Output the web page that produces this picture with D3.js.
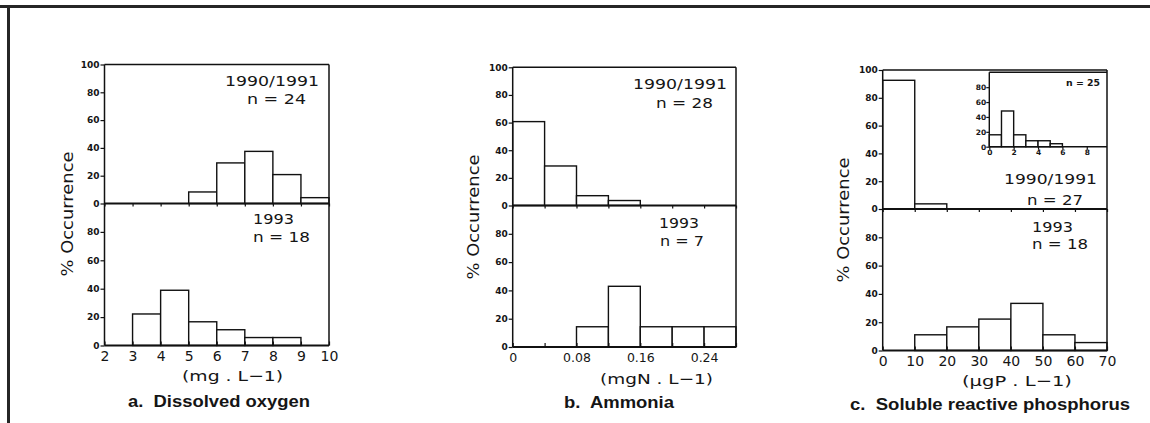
<!DOCTYPE html>
<html>
<head>
<meta charset="utf-8">
<script src="https://cdn.jsdelivr.net/npm/d3@7"></script>
<style>
  body { margin: 0; background: #fff; }
  svg { display: block; }
  text { fill: #151515; white-space: pre; }
</style>
</head>
<body>
<div id="chart"></div>
<script>
// lower edge of each class and % occurrence per class
const oxygenBins = [2, 3, 4, 5, 6, 7, 8, 9];
const oxygen9091 = [0, 0, 0, 8.3, 29.2, 37.5, 20.8, 4.2];
const oxygen1993 = [0, 22.2, 38.9, 16.7, 11.1, 5.6, 5.6, 0];
const oxygenTicks = [2, 3, 4, 5, 6, 7, 8, 9, 10];
const oxygenLabels = ["2", "3", "4", "5", "6", "7", "8", "9", "10"];

const ammoniaBins = [0, 0.04, 0.08, 0.12, 0.16, 0.20, 0.24];
const ammonia9091 = [60.7, 28.6, 7.1, 3.6, 0, 0, 0];
const ammonia1993 = [0, 0, 14.3, 42.9, 14.3, 14.3, 14.3];
const ammoniaTicks = [0, 0.04, 0.08, 0.12, 0.16, 0.20, 0.24, 0.28];
const ammoniaLabels = ["0", "", "0.08", "", "0.16", "", "0.24", ""];

const phosBins = [0, 10, 20, 30, 40, 50, 60];
const phos9091 = [92.6, 3.7, 0, 0, 0, 0, 0];
const phos1993 = [0, 11.1, 16.7, 22.2, 33.3, 11.1, 5.6];
const phosTicks = [0, 10, 20, 30, 40, 50, 60, 70];
const phosLabels = ["0", "10", "20", "30", "40", "50", "60", "70"];

// inset of panel c (1990/1991 detail, n = 25)
const insetBins = [0, 1, 2, 3, 4, 5];
const insetValues = [16, 48, 16, 8, 8, 4];
const insetXTicks = [0, 2, 4, 6, 8];
const insetYTicks = [0, 20, 40, 60, 80];

const yTicksUpper = [0, 20, 40, 60, 80, 100];
const yTicksLower = [0, 20, 40, 60, 80];

const ink = "#111";

const panels = [
  {
    bins: oxygenBins, step: 1, upper: oxygen9091, lower: oxygen1993,
    ticks: oxygenTicks, labels: oxygenLabels, domain: [2, 10],
    x0: 104.5, x1: 329, top: 64.5, mid: 203.5, bot: 345.5,
    tickFont: 14, tickPad: 6,
    ylabX: 67, ylabY: 214,
    notes: [
      { t: "1990/1991", x: 225, y: 86, w: 94 },
      { t: "n = 24", x: 247, y: 104, w: 59 },
      { t: "1993", x: 253, y: 224, w: 41 },
      { t: "n = 18", x: 253, y: 242, w: 57 }
    ],
    unit: { t: "(mg . L\u22121)", x: 182, y: 381, w: 101 },
    title: { t: "a.  Dissolved oxygen", x: 128, y: 407, w: 182 }
  },
  {
    bins: ammoniaBins, step: 0.04, upper: ammonia9091, lower: ammonia1993,
    ticks: ammoniaTicks, labels: ammoniaLabels, domain: [0, 0.28],
    x0: 512.7, x1: 736, top: 67.3, mid: 205.5, bot: 347,
    tickFont: 12.5, tickPad: 6,
    ylabX: 473, ylabY: 217,
    notes: [
      { t: "1990/1991", x: 633, y: 88.7, w: 94 },
      { t: "n = 28", x: 656, y: 108, w: 57 },
      { t: "1993", x: 659, y: 228, w: 40 },
      { t: "n = 7", x: 660, y: 246, w: 44 }
    ],
    unit: { t: "(mgN . L\u22121)", x: 600, y: 384, w: 113 },
    title: { t: "b.  Ammonia", x: 564, y: 408, w: 110 }
  },
  {
    bins: phosBins, step: 10, upper: phos9091, lower: phos1993,
    ticks: phosTicks, labels: phosLabels, domain: [0, 70],
    x0: 882.7, x1: 1107, top: 70, mid: 209, bot: 350.5,
    tickFont: 14, tickPad: 6,
    ylabX: 843, ylabY: 220,
    notes: [
      { t: "1990/1991", x: 1004, y: 184, w: 93 },
      { t: "n = 27", x: 1027, y: 205, w: 56 },
      { t: "1993", x: 1032, y: 232, w: 41 },
      { t: "n = 18", x: 1032, y: 249, w: 56 }
    ],
    unit: { t: "(\u00b5gP . L\u22121)", x: 962, y: 386, w: 110 },
    title: { t: "c.  Soluble reactive phosphorus", x: 850, y: 410, w: 280 },
    inset: { x0: 989.3, x1: 1107, top: 72.3, bot: 146.7, domain: [0, 9.66] }
  }
];

const svg = d3.select("#chart").append("svg")
  .attr("width", 1150)
  .attr("height", 423);

// page frame (top rule and left rule)
svg.append("rect").attr("x", 0).attr("y", 5).attr("width", 1150).attr("height", 3).attr("fill", "#262626");
svg.append("rect").attr("x", 7).attr("y", 5).attr("width", 3).attr("height", 418).attr("fill", "#262626");

function drawBars(g, bins, step, vals, x, y) {
  g.selectAll(null)
    .data(bins.map((b, i) => ({ b: b, v: vals[i] })).filter(d => d.v > 0))
    .join("rect")
    .attr("x", d => x(d.b))
    .attr("width", d => x(d.b + step) - x(d.b))
    .attr("y", d => y(d.v))
    .attr("height", d => y(0) - y(d.v))
    .attr("fill", "#fff")
    .attr("stroke", ink)
    .attr("stroke-width", 1.4);
}

function styleAxis(a, size, weight, family) {
  a.select(".domain").remove();
  a.attr("font-family", null).attr("font-size", null);
  a.selectAll("line").attr("stroke", ink).attr("stroke-width", 1.2);
  a.selectAll("text")
    .attr("fill", ink)
    .style("font-family", family || "DejaVu Sans")
    .style("font-size", size + "px")
    .style("font-weight", weight);
}

function hline(g, x0, x1, y, w) {
  g.append("line").attr("x1", x0).attr("x2", x1).attr("y1", y).attr("y2", y)
    .attr("stroke", ink).attr("stroke-width", w);
}
function vline(g, x, y0, y1, w) {
  g.append("line").attr("x1", x).attr("x2", x).attr("y1", y0).attr("y2", y1)
    .attr("stroke", ink).attr("stroke-width", w);
}

function label(g, o, size, weight, family) {
  g.append("text")
    .attr("x", o.x).attr("y", o.y)
    .attr("textLength", o.w).attr("lengthAdjust", "spacingAndGlyphs")
    .style("font-family", family || "DejaVu Sans")
    .style("font-size", size + "px")
    .style("font-weight", weight || "normal")
    .text(o.t);
}

function drawPanel(p) {
  const g = svg.append("g");
  const x = d3.scaleLinear().domain(p.domain).range([p.x0, p.x1]);
  const yUp = d3.scaleLinear().domain([0, 100]).range([p.mid, p.top]);
  const yLo = d3.scaleLinear().domain([0, 100]).range([p.bot, p.mid]);

  drawBars(g, p.bins, p.step, p.upper, x, yUp);
  drawBars(g, p.bins, p.step, p.lower, x, yLo);

  // plot frame
  vline(g, p.x0, p.top, p.bot, 1.5);
  vline(g, p.x1, p.top, p.bot, 1.5);
  hline(g, p.x0, p.x1, p.top, 1.5);
  hline(g, p.x0, p.x1, p.mid, 2);
  hline(g, p.x0, p.x1, p.bot, 1.8);

  // y axes
  styleAxis(g.append("g").attr("transform", `translate(${p.x0},0)`)
    .call(d3.axisLeft(yUp).tickValues(yTicksUpper).tickSize(4).tickPadding(1)), 9, "bold");
  styleAxis(g.append("g").attr("transform", `translate(${p.x0},0)`)
    .call(d3.axisLeft(yLo).tickValues(yTicksLower).tickSize(4).tickPadding(1)), 9, "bold");

  // x ticks on the shared middle line
  styleAxis(g.append("g").attr("transform", `translate(0,${p.mid})`)
    .call(d3.axisBottom(x).tickValues(p.ticks).tickSize(3).tickFormat("")), 9, "normal");

  // bottom x axis
  styleAxis(g.append("g").attr("transform", `translate(0,${p.bot})`)
    .call(d3.axisBottom(x).tickValues(p.ticks).tickSize(-4).tickPadding(p.tickPad)
      .tickFormat((d, i) => p.labels[i])), p.tickFont, "normal");

  // annotations
  p.notes.forEach(n => label(g, n, 14));
  label(g, p.unit, 14.5);
  label(g, p.title, 17, "bold", "Liberation Sans");

  g.append("text")
    .attr("transform", `translate(${p.ylabX},${p.ylabY}) rotate(-90)`)
    .attr("text-anchor", "middle")
    .attr("dy", "0.35em")
    .attr("textLength", 125).attr("lengthAdjust", "spacingAndGlyphs")
    .style("font-family", "DejaVu Sans")
    .style("font-size", "16px")
    .text("% Occurrence");

  if (p.inset) drawInset(g, p.inset);
}

function drawInset(g, s) {
  const x = d3.scaleLinear().domain(s.domain).range([s.x0, s.x1]);
  const y = d3.scaleLinear().domain([0, 100]).range([s.bot, s.top]);

  drawBars(g, insetBins, 1, insetValues, x, y);

  vline(g, s.x0, s.top, s.bot, 1.4);
  hline(g, s.x0, s.x1, s.top, 1.4);
  hline(g, s.x0, s.x1, s.bot, 1.6);

  styleAxis(g.append("g").attr("transform", `translate(${s.x0},0)`)
    .call(d3.axisLeft(y).tickValues(insetYTicks).tickSize(3).tickPadding(0)), 7.5, "bold");
  styleAxis(g.append("g").attr("transform", `translate(0,${s.bot})`)
    .call(d3.axisBottom(x).tickValues(insetXTicks).tickSize(3).tickPadding(0)), 7.5, "bold");

  label(g, { t: "n = 25", x: 1066, y: 86, w: 34 }, 9, "bold");
}

panels.forEach(drawPanel);
</script>
</body>
</html>
